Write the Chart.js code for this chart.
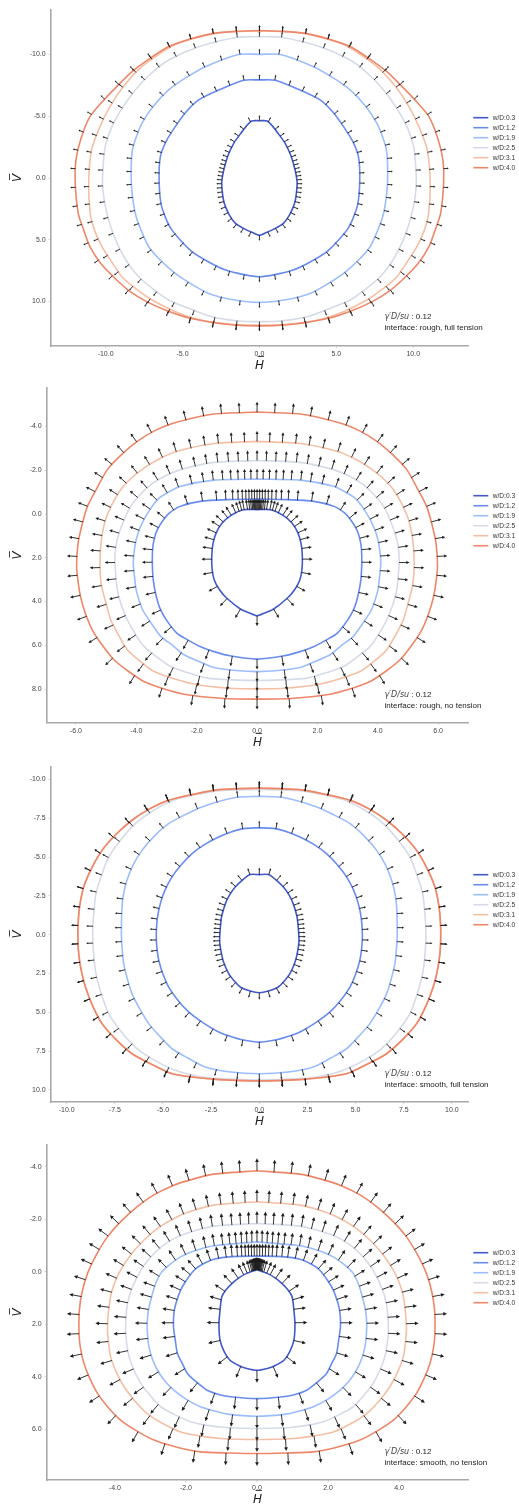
<!DOCTYPE html>
<html>
<head>
<meta charset="utf-8">
<script src="https://cdn.jsdelivr.net/npm/chart.js@4.4.1/dist/chart.umd.min.js"></script>
<style>
  html, body { margin: 0; padding: 0; width: 519px; height: 1505px; overflow: hidden; background: #fff; }
  .panel { position: absolute; left: 0; width: 519px; height: 376px; }
</style>
</head>
<body>
<div class="panel" style="top:0px"><canvas id="c0" width="519" height="376"></canvas></div>
<div class="panel" style="top:378.3px"><canvas id="c1" width="519" height="376"></canvas></div>
<div class="panel" style="top:756.7px"><canvas id="c2" width="519" height="376"></canvas></div>
<div class="panel" style="top:1135px"><canvas id="c3" width="519" height="376"></canvas></div>
<script>
// Légende et textes
const wdLabels = ['w/D:0.3', 'w/D:1.2', 'w/D:1.9', 'w/D:2.5', 'w/D:3.1', 'w/D:4.0'];
const lineColors = ['#4358cb', '#6a8cef', '#9dbdfc', '#d5dbe7', '#f5bfa6', '#ee8769'];
const gammaValue = '0.12';
const interfaceTexts = [
    'interface: rough, full tension',
    'interface: rough, no tension',
    'interface: smooth, full tension',
    'interface: smooth, no tension'
];

// Axes: bornes et pas des graduations
const xRanges = [[-13.57, 13.58], [-6.97, 7.0], [-10.83, 10.85], [-5.92, 5.95]];
const yRanges = [[-13.6, 13.6], [-5.76, 9.55], [-10.8, 10.78], [-4.83, 7.93]];
const tickSteps = [5, 2, 2.5, 2];

// Enveloppes (moitié droite, H >= 0, du haut vers le bas) ; la moitié gauche est symétrique
// rough, full tension
const rf03 = [[0,-4.64],[0.5,-4.62],[0.85,-4.2],[1.25,-3.55],[1.67,-2.81],[2.05,-1.8],[2.32,-0.65],[2.45,0.3],[2.43,0.9],[2.35,1.7],[2.21,2.32],[1.95,3.0],[1.56,3.67],[1.0,4.1],[0.45,4.42],[0,4.64]];
const rf12 = [[0,-7.94],[1.03,-7.92],[2.5,-7.2],[3.95,-6.32],[4.8,-5.3],[5.47,-4.16],[6.05,-3.0],[6.44,-1.73],[6.52,0.3],[6.36,2.3],[5.75,4.1],[4.45,5.9],[3.3,6.8],[2.2,7.45],[1.0,7.82],[0,7.99]];
const rf19 = [[0,-10.01],[1.37,-10.0],[3.51,-9.01],[4.8,-8.1],[5.9,-7.13],[6.9,-5.8],[7.64,-4.43],[8.1,-3.0],[8.29,-2.0],[8.33,0.3],[8.2,2.0],[8.0,3.2],[7.6,4.5],[7.2,5.56],[6.4,6.7],[5.47,7.72],[4.4,8.6],[3.3,9.34],[1.7,9.85],[0,10.07]];
const rf25 = [[0,-11.44],[1.4,-11.4],[3.95,-10.63],[5.9,-9.55],[7.1,-8.4],[8.07,-7.13],[8.9,-5.7],[9.59,-4.16],[10.0,-2.7],[10.13,-1.46],[10.2,0.3],[10.1,1.7],[9.91,2.86],[9.6,4.2],[9.15,5.56],[8.6,6.8],[7.85,7.99],[6.9,9.0],[5.9,9.88],[4.5,10.6],[3.08,11.23],[1.5,11.55],[0,11.63]];
const rf31 = [[0,-11.92],[1.5,-11.86],[3.0,-11.68],[4.5,-11.22],[5.5,-10.78],[6.5,-10.05],[7.77,-8.88],[8.85,-7.4],[9.72,-5.78],[10.37,-4.16],[10.91,-2.27],[11.1,0.3],[11.0,2.86],[10.7,4.3],[10.24,5.56],[9.6,6.8],[8.94,7.99],[8.0,9.0],[6.98,9.88],[5.5,10.8],[3.95,11.45],[2.0,11.82],[0,11.9]];
const rf40 = [[0,-11.93],[1.5,-11.87],[2.99,-11.71],[4.5,-11.25],[5.92,-10.63],[7.11,-9.69],[8.3,-8.6],[9.28,-7.4],[10.2,-6.2],[11.02,-4.97],[11.6,-3.2],[11.93,-1.46],[11.98,0.3],[11.78,2.86],[11.4,4.3],[11.02,5.56],[10.3,6.95],[9.28,8.26],[8.4,9.2],[7.33,10.01],[6.0,10.75],[4.51,11.36],[3.0,11.7],[1.69,11.9],[0,11.97]];
// rough, no tension
const rn03 = [[0,-0.2],[0.45,-0.2],[0.85,0.05],[1.15,0.4],[1.35,0.85],[1.46,1.35],[1.5,1.9],[1.49,2.5],[1.42,3.0],[1.25,3.45],[1.0,3.85],[0.54,4.35],[0.25,4.52],[0,4.65]];
const rn12 = [[0,-0.68],[1.0,-0.66],[1.89,-0.58],[2.55,-0.35],[2.9,-0.05],[3.1,0.26],[3.3,0.7],[3.4,1.1],[3.46,1.6],[3.47,2.24],[3.44,3.0],[3.35,3.7],[3.22,4.3],[3.0,4.85],[2.66,5.44],[2.3,5.75],[1.89,6.05],[1.4,6.3],[0.9,6.48],[0,6.63]];
const rn19 = [[0,-1.6],[1.43,-1.55],[2.53,-1.27],[3.0,-0.95],[3.3,-0.66],[3.55,-0.2],[3.75,0.26],[3.95,0.9],[4.05,1.5],[4.1,2.24],[4.05,3.0],[4.0,3.5],[3.8,4.35],[3.5,5.0],[3.19,5.59],[2.8,6.0],[2.42,6.43],[1.9,6.75],[1.43,7.01],[0.7,7.15],[0,7.2]];
const rn25 = [[0,-2.45],[1.43,-2.36],[2.53,-2.03],[3.1,-1.7],[3.52,-1.34],[3.9,-0.85],[4.19,-0.35],[4.4,0.25],[4.57,0.87],[4.68,1.5],[4.71,2.16],[4.68,2.8],[4.63,3.46],[4.5,4.15],[4.3,4.83],[4.05,5.45],[3.75,6.05],[3.3,6.55],[2.86,6.97],[2.3,7.25],[1.65,7.5],[0.8,7.58],[0,7.61]];
const rn31 = [[0,-3.32],[1.43,-3.22],[2.64,-2.87],[3.2,-2.55],[3.75,-2.1],[4.2,-1.6],[4.52,-1.11],[4.8,-0.45],[5.02,0.26],[5.15,1.1],[5.2,1.94],[5.2,2.6],[5.15,3.31],[5.0,4.1],[4.85,4.83],[4.6,5.5],[4.3,6.2],[3.9,6.7],[3.41,7.2],[2.7,7.55],[1.98,7.8],[1.0,7.95],[0,7.99]];
const rn40 = [[0,-4.66],[1.43,-4.57],[2.75,-4.16],[3.4,-3.8],[3.97,-3.32],[4.5,-2.7],[4.96,-2.03],[5.3,-1.2],[5.62,-0.35],[5.8,0.5],[5.93,1.33],[5.98,2.39],[5.93,3.1],[5.85,3.77],[5.7,4.5],[5.46,5.29],[5.15,5.95],[4.74,6.66],[4.3,7.15],[3.75,7.65],[3.1,7.98],[2.31,8.26],[1.2,8.42],[0,8.46]];
// smooth, full tension
const sf03 = [[0,-3.87],[0.47,-3.87],[0.85,-3.55],[1.25,-3.07],[1.55,-2.55],[1.76,-2.0],[1.95,-1.2],[2.02,-0.49],[2.06,0.37],[2.0,1.0],[1.86,1.75],[1.59,2.51],[1.3,2.98],[0.99,3.37],[0.47,3.63],[0,3.74]];
const sf12 = [[0,-6.89],[0.81,-6.83],[1.5,-6.6],[2.11,-6.29],[2.85,-5.8],[3.49,-5.22],[4.05,-4.5],[4.53,-3.72],[4.9,-2.85],[5.14,-2.0],[5.3,-1.0],[5.35,0],[5.32,0.8],[5.22,1.65],[5.0,2.55],[4.71,3.37],[4.25,4.2],[3.67,4.98],[2.95,5.65],[2.11,6.27],[1.4,6.6],[0.9,6.77],[0,6.92]];
const sf19 = [[0,-8.91],[1.25,-8.83],[2.98,-8.23],[3.9,-7.7],[4.71,-7.15],[5.45,-6.35],[6.09,-5.43],[6.55,-4.5],[6.87,-3.5],[7.05,-2.6],[7.13,-1.78],[7.16,0],[7.12,0.9],[7.04,1.87],[6.85,2.85],[6.61,3.8],[6.2,4.8],[5.74,5.73],[5.2,6.5],[4.53,7.35],[3.7,7.95],[2.8,8.53],[1.5,8.85],[0,8.96]];
const sf25 = [[0,-9.36],[2.11,-9.28],[3.3,-9.02],[4.36,-8.7],[5.5,-8.0],[6.44,-7.15],[7.2,-6.1],[7.82,-5.0],[8.2,-3.8],[8.48,-2.64],[8.6,-1.3],[8.65,0],[8.6,1.3],[8.48,2.51],[8.2,3.8],[7.82,5.09],[7.2,6.2],[6.44,7.24],[5.5,8.05],[4.36,8.74],[3.2,9.12],[2.11,9.27],[0,9.36]];
const sf31 = [[0,-9.44],[2.11,-9.33],[3.4,-9.04],[4.71,-8.65],[5.7,-8.09],[6.61,-7.36],[7.45,-6.44],[8.16,-5.42],[8.69,-4.29],[9.11,-3.07],[9.31,-1.9],[9.4,-0.71],[9.41,0.3],[9.37,1.22],[9.24,2.3],[9.02,3.37],[8.64,4.6],[8.16,5.72],[7.44,6.74],[6.6,7.66],[5.59,8.34],[4.52,8.95],[3.3,9.19],[2.11,9.33],[0,9.41]];
const sf40 = [[0,-9.45],[2.11,-9.34],[3.4,-9.05],[4.71,-8.66],[5.7,-8.1],[6.61,-7.37],[7.45,-6.45],[8.17,-5.43],[8.7,-4.3],[9.12,-3.07],[9.32,-1.9],[9.41,-0.71],[9.42,0.3],[9.38,1.22],[9.25,2.3],[9.03,3.37],[8.65,4.6],[8.17,5.73],[7.45,6.75],[6.61,7.67],[5.6,8.35],[4.53,8.96],[3.3,9.2],[2.11,9.34],[0,9.42]];
// smooth, no tension
const sn03 = [[0,-0.08],[0.29,0.06],[0.5,0.22],[0.7,0.44],[0.88,0.7],[0.99,0.95],[1.04,1.46],[1.07,2.0],[1.04,2.6],[0.92,3.05],[0.76,3.37],[0.5,3.58],[0.29,3.68],[0,3.75]];
const sn12 = [[0,-0.6],[0.7,-0.58],[1.21,-0.48],[1.55,-0.28],[1.77,-0.06],[2.0,0.35],[2.15,0.7],[2.28,1.2],[2.34,1.59],[2.35,2.1],[2.3,2.6],[2.24,3.11],[2.1,3.5],[1.96,3.87],[1.7,4.2],[1.4,4.51],[1.05,4.68],[0.74,4.76],[0,4.83]];
const sn19 = [[0,-1.14],[1.21,-0.99],[1.75,-0.8],[2.15,-0.57],[2.45,-0.28],[2.71,0.06],[2.88,0.55],[2.99,1.08],[3.06,1.5],[3.09,1.97],[3.08,2.4],[3.04,2.86],[2.95,3.3],[2.8,3.75],[2.6,4.15],[2.34,4.51],[2.0,4.85],[1.59,5.14],[1.2,5.3],[0.83,5.42],[0,5.5]];
const sn25 = [[0,-1.84],[1.21,-1.74],[1.75,-1.56],[2.24,-1.33],[2.65,-1.0],[2.99,-0.57],[3.25,-0.1],[3.46,0.44],[3.6,0.95],[3.67,1.46],[3.7,2.22],[3.67,2.7],[3.6,3.24],[3.46,3.75],[3.27,4.25],[3.0,4.72],[2.71,5.14],[2.3,5.45],[1.87,5.71],[1.4,5.85],[0.93,5.93],[0,5.97]];
const sn31 = [[0,-2.67],[1.21,-2.54],[1.75,-2.35],[2.24,-2.1],[2.75,-1.7],[3.18,-1.21],[3.55,-0.65],[3.84,-0.06],[4.03,0.5],[4.14,1.08],[4.21,2.1],[4.18,2.7],[4.12,3.24],[3.95,3.85],[3.74,4.38],[3.45,4.9],[3.09,5.4],[2.65,5.78],[2.15,6.1],[1.6,6.25],[1.02,6.35],[0,6.39]];
const sn40 = [[0,-3.85],[1.21,-3.72],[1.8,-3.53],[2.34,-3.3],[2.9,-2.93],[3.37,-2.48],[3.82,-1.93],[4.21,-1.33],[4.52,-0.65],[4.77,0.06],[4.92,0.75],[5.0,1.46],[5.01,2.35],[4.97,2.9],[4.87,3.49],[4.71,4.05],[4.49,4.63],[4.2,5.15],[3.84,5.65],[3.4,6.05],[2.9,6.41],[2.25,6.68],[1.59,6.86],[0.8,6.9],[0,6.92]];

const panelCurves = [
    [rf03, rf12, rf19, rf25, rf31, rf40],
    [rn03, rn12, rn19, rn25, rn31, rn40],
    [sf03, sf12, sf19, sf25, sf31, sf40],
    [sn03, sn12, sn19, sn25, sn31, sn40]
];

// Mise en page (pixels, coordonnées de la page)
const plotTops = [10, 388.3, 766.7, 1145];
const plotBottoms = [346, 723.3, 1101.7, 1480];
const plotLefts = [50.7, 46.7, 50.7, 46.7];
const plotRight = 468.3;
const arrowLengths = [5.5, 10.4, 7, 12.4];

// Courbe fermée à partir de la moitié droite
function closedCurve(half) {
    const pts = half.map(([h, v]) => ({ x: h, y: v }));
    for (let i = half.length - 2; i > 0; i--) {
        pts.push({ x: -half[i][0], y: half[i][1] });
    }
    pts.push({ x: half[0][0], y: half[0][1] });
    return pts;
}

// Flèches normales aux enveloppes (rayons partant de l'origine)
const normalArrows = {
    id: 'normalArrows',
    afterDatasetsDraw(chart, args, opts) {
        const { ctx } = chart;
        const xs = chart.scales.x, ys = chart.scales.y;
        const len = opts.length;
        const headL = Math.max(1.6, len * 0.3);
        const headW = Math.max(1.0, len * 0.15);
        ctx.save();
        ctx.strokeStyle = opts.color;
        ctx.fillStyle = opts.color;
        ctx.lineWidth = opts.width;
        chart.data.datasets.forEach(ds => {
            const pts = ds.data.slice(0, -1);
            const n = pts.length;
            const px = pts.map(p => [xs.getPixelForValue(p.x), ys.getPixelForValue(p.y)]);
            let cx = 0, cy = 0;
            px.forEach(p => { cx += p[0]; cy += p[1]; });
            cx /= n; cy /= n;
            const segN = [];
            for (let i = 0; i < n; i++) {
                const a = px[i], b = px[(i + 1) % n];
                const dx = b[0] - a[0], dy = b[1] - a[1];
                const l = Math.hypot(dx, dy) || 1;
                let nx = dy / l, ny = -dx / l;
                const mx = (a[0] + b[0]) / 2 - cx, my = (a[1] + b[1]) / 2 - cy;
                if (nx * mx + ny * my < 0) { nx = -nx; ny = -ny; }
                segN.push([nx, ny]);
            }
            const vertN = segN.map((s, i) => {
                const p = segN[(i - 1 + n) % n];
                const vx = s[0] + p[0], vy = s[1] + p[1];
                const l = Math.hypot(vx, vy) || 1;
                return [vx / l, vy / l];
            });
            for (let k = 0; k < opts.count; k++) {
                const th = (opts.offset + k * 360 / opts.count) * Math.PI / 180;
                const dx = Math.cos(th), dy = Math.sin(th);
                let best = null;
                for (let i = 0; i < n; i++) {
                    const a = pts[i], b = pts[(i + 1) % n];
                    const ex = b.x - a.x, ey = b.y - a.y;
                    const det = -dx * ey + ex * dy;
                    if (Math.abs(det) < 1e-12) continue;
                    const r = (-a.x * ey + ex * a.y) / det;
                    const s = (dx * a.y - dy * a.x) / det;
                    if (r > 0 && s >= -1e-9 && s <= 1 + 1e-9 && (!best || r < best.r)) {
                        best = { r, s, i };
                    }
                }
                if (!best) continue;
                const bx = xs.getPixelForValue(best.r * dx);
                const by = ys.getPixelForValue(best.r * dy);
                const n0 = vertN[best.i], n1 = vertN[(best.i + 1) % n];
                let nx = n0[0] * (1 - best.s) + n1[0] * best.s;
                let ny = n0[1] * (1 - best.s) + n1[1] * best.s;
                const l = Math.hypot(nx, ny) || 1;
                nx /= l; ny /= l;
                const tx = bx + nx * len, ty = by + ny * len;
                ctx.beginPath();
                ctx.moveTo(bx, by);
                ctx.lineTo(tx - nx * headL * 0.8, ty - ny * headL * 0.8);
                ctx.stroke();
                ctx.beginPath();
                ctx.moveTo(tx, ty);
                ctx.lineTo(tx - nx * headL - ny * headW, ty - ny * headL + nx * headW);
                ctx.lineTo(tx - nx * headL + ny * headW, ty - ny * headL - nx * headW);
                ctx.closePath();
                ctx.fill();
            }
        });
        ctx.restore();
    }
};

// Légende à droite et annotation en bas à droite
const sideNotes = {
    id: 'sideNotes',
    afterDraw(chart, args, opts) {
        const { ctx, chartArea } = chart;
        ctx.save();
        ctx.textBaseline = 'middle';
        chart.data.datasets.forEach((ds, i) => {
            const yy = chartArea.top + 107.7 + i * 10;
            ctx.strokeStyle = ds.borderColor;
            ctx.lineWidth = 1.6;
            ctx.beginPath();
            ctx.moveTo(473.3, yy);
            ctx.lineTo(488.3, yy);
            ctx.stroke();
            ctx.fillStyle = '#333';
            ctx.font = '6.6px "Liberation Sans", Arial, sans-serif';
            ctx.fillText(ds.label, 492.7, yy);
        });
        const y1 = chartArea.top + 306.5;
        const y2 = chartArea.top + 317.3;
        const x0 = 384.5;
        ctx.fillStyle = '#444';
        ctx.font = 'italic 8px "DejaVu Sans", sans-serif';
        const mathPart = 'γ′D/su';
        ctx.fillText(mathPart, x0, y1);
        const w = ctx.measureText(mathPart).width;
        ctx.fillStyle = '#222';
        ctx.font = '8px "Liberation Sans", Arial, sans-serif';
        ctx.fillText(' : ' + gammaValue, x0 + w, y1);
        ctx.fillText(opts.text, x0, y2);
        ctx.restore();
    }
};

function makePanel(idx) {
    const canvas = document.getElementById('c' + idx);
    const plotH = plotBottoms[idx] - plotTops[idx];
    const xAxisH = 376 - 10 - plotH;
    const tickFont = { family: '"Liberation Sans", Arial, sans-serif', size: 7 };
    const titleFont = { family: '"DejaVu Sans", sans-serif', style: 'italic', size: 12, lineHeight: 1.2 };
    const fmt = v => Number(v).toFixed(1);

    const datasets = panelCurves[idx].map((half, i) => ({
        label: wdLabels[i],
        data: closedCurve(half),
        showLine: true,
        borderColor: lineColors[i],
        backgroundColor: lineColors[i],
        borderWidth: 1.6,
        pointRadius: 0,
        pointHoverRadius: 0,
        tension: 0.25,
        fill: false,
        order: 6 - i
    }));

    return new Chart(canvas, {
        type: 'scatter',
        data: { datasets },
        options: {
            responsive: false,
            animation: false,
            events: [],
            layout: { padding: { top: 10, right: 519 - plotRight, left: 0, bottom: 0 } },
            plugins: {
                legend: { display: false },
                tooltip: { enabled: false },
                normalArrows: { count: 50, offset: 3.6, length: arrowLengths[idx], color: '#1c1c1c', width: 0.9 },
                sideNotes: { text: interfaceTexts[idx] }
            },
            scales: {
                x: {
                    type: 'linear',
                    min: xRanges[idx][0],
                    max: xRanges[idx][1],
                    afterFit(scale) { scale.height = xAxisH; },
                    ticks: {
                        stepSize: tickSteps[idx],
                        includeBounds: false,
                        autoSkip: false,
                        maxRotation: 0,
                        padding: 1.5,
                        color: '#444',
                        font: tickFont,
                        callback: fmt
                    },
                    grid: { display: true, drawOnChartArea: false, drawTicks: true, tickLength: 2, color: '#c8c8c8', lineWidth: 0.8 },
                    border: { display: true, color: '#a8a8a8', width: 1.6 },
                    title: {
                        display: true,
                        text: 'H\u0305',
                        color: '#222',
                        font: titleFont,
                        padding: { top: 0, bottom: xAxisH - 19.5 - 7.2 }
                    }
                },
                y: {
                    type: 'linear',
                    reverse: true,
                    min: yRanges[idx][0],
                    max: yRanges[idx][1],
                    afterFit(scale) { scale.width = plotLefts[idx]; },
                    ticks: {
                        stepSize: tickSteps[idx],
                        includeBounds: false,
                        autoSkip: false,
                        padding: 3,
                        color: '#444',
                        font: tickFont,
                        callback: fmt
                    },
                    grid: { display: true, drawOnChartArea: false, drawTicks: true, tickLength: 2, color: '#c8c8c8', lineWidth: 0.8 },
                    border: { display: true, color: '#a8a8a8', width: 1.6 },
                    title: {
                        display: true,
                        text: 'V\u0305',
                        color: '#222',
                        font: titleFont,
                        padding: { top: 10.8, bottom: 0 }
                    }
                }
            }
        },
        plugins: [normalArrows, sideNotes]
    });
}

[0, 1, 2, 3].forEach(makePanel);
</script>
</body>
</html>
